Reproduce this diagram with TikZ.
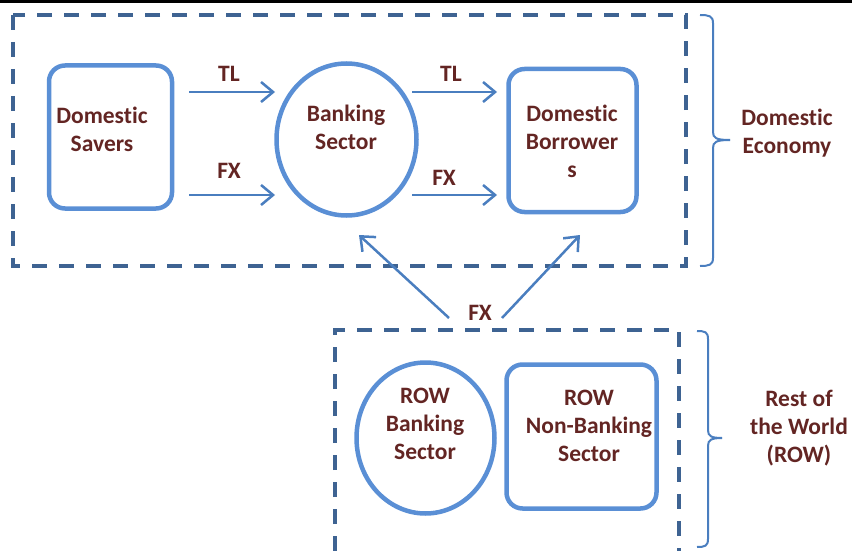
\documentclass[tikz,border=0pt]{standalone}
\usepackage{fontspec}
\setmainfont[RawFeature={-liga;-clig;-calt}]{Carlito}
\usetikzlibrary{shapes.geometric,arrows.meta}
\definecolor{boxblue}{HTML}{5A8FD5}
\definecolor{arrowblue}{HTML}{4A7EBF}
\definecolor{dashblue}{HTML}{3E6392}
\definecolor{txtred}{HTML}{632523}
\newcommand{\Dom}{Domest\kern0pt ic}
\tikzset{
  lbl/.style={font=\fontsize{23.5}{28}\selectfont\bfseries, text=txtred, align=center, inner sep=0pt},
  rbox/.style={draw=boxblue, line width=4.5pt, rounded corners=16pt, inner sep=0pt},
  ell/.style={draw=boxblue, line width=4.5pt, ellipse, inner sep=0pt},
  flow/.style={draw=arrowblue, line width=2.5pt, -{Straight Barb[length=12pt,width=20pt,line width=2.5pt]}},
  dbox/.style={draw=dashblue, line width=3.5pt, dash pattern=on 15pt off 12pt},
  brace/.style={draw=arrowblue, line width=2pt}
}
\begin{document}
\begin{tikzpicture}[x=1pt,y=-1pt]
\useasboundingbox (0,0) rectangle (852,551);
% top rule
\draw[line width=3pt, black] (0,1.5) -- (852,1.5);
% dashed boxes
\draw[dbox] (13,15) rectangle (686,266);
\draw[dbox] (335,551) -- (335,330) -- (679,330) -- (679,551);
% shapes
\node[rbox, minimum width=123pt, minimum height=143pt] (savers) at (110.5,137) {};
\node[ell, minimum width=140pt, minimum height=152pt] (bank) at (346.5,139.5) {};
\node[rbox, minimum width=128pt, minimum height=143pt] (borrow) at (572.5,140.5) {};
\node[ell, minimum width=138pt, minimum height=151pt] (rowbank) at (425.5,438) {};
\node[rbox, minimum width=150pt, minimum height=144pt] (rownb) at (581.5,436.5) {};
% texts
\node[lbl] (tsavers) at (102,129) {\Dom\\Savers};
\node[lbl] (tbank) at (346,127.5) {Banking\\Sector};
\node[lbl] (tborrow) at (572,141.5) {\Dom\\Borrower\\s};
\node[lbl] (trowbank) at (425,424) {ROW\\Banking\\Sector};
\node[lbl] (trownb) at (589,425.5) {ROW\\Non-Banking\\Sector};
\node[lbl] (tdom) at (787,133) {\Dom\\Economy};
\node[lbl] (trow) at (799,428) {Rest of\\the World\\(ROW)};
% arrows
\coordinate (a1s) at (189,92); \coordinate (a1e) at (275,92);
\coordinate (a2s) at (189,195); \coordinate (a2e) at (275,195);
\coordinate (a3s) at (412,92); \coordinate (a3e) at (497,92);
\coordinate (a4s) at (412,195); \coordinate (a4e) at (497,195);
\coordinate (a5s) at (449,318); \coordinate (a5e) at (359,235);
\coordinate (a6s) at (502,318); \coordinate (a6e) at (580,235);
\draw[flow] (a1s) -- (a1e);
\draw[flow] (a2s) -- (a2e);
\draw[flow] (a3s) -- (a3e);
\draw[flow] (a4s) -- (a4e);
\draw[flow] (a5s) -- (a5e);
\draw[flow] (a6s) -- (a6e);
\node[lbl] (ltl1) at (229,74) {TL};
\node[lbl] (lfx1) at (229,171) {FX};
\node[lbl] (ltl2) at (451,74) {TL};
\node[lbl] (lfx2) at (444,178) {FX};
\node[lbl] (lfx3) at (480,313) {FX};
% braces
\draw[brace] (700,15) .. controls (709,15) and (713,16) .. (713,23) -- (713,132) .. controls (713,138) and (716,140) .. (730,140);
\draw[brace] (730,140) .. controls (716,140) and (713,142) .. (713,148) -- (713,258) .. controls (713,265) and (709,266) .. (700,266);
\draw[brace] (697,331) .. controls (705,331) and (708,332) .. (708,339) -- (708,430) .. controls (708,436) and (711,438) .. (722,438);
\draw[brace] (722,438) .. controls (711,438) and (708,440) .. (708,446) -- (708,539) .. controls (708,546) and (705,547) .. (697,547);
\end{tikzpicture}
\end{document}
